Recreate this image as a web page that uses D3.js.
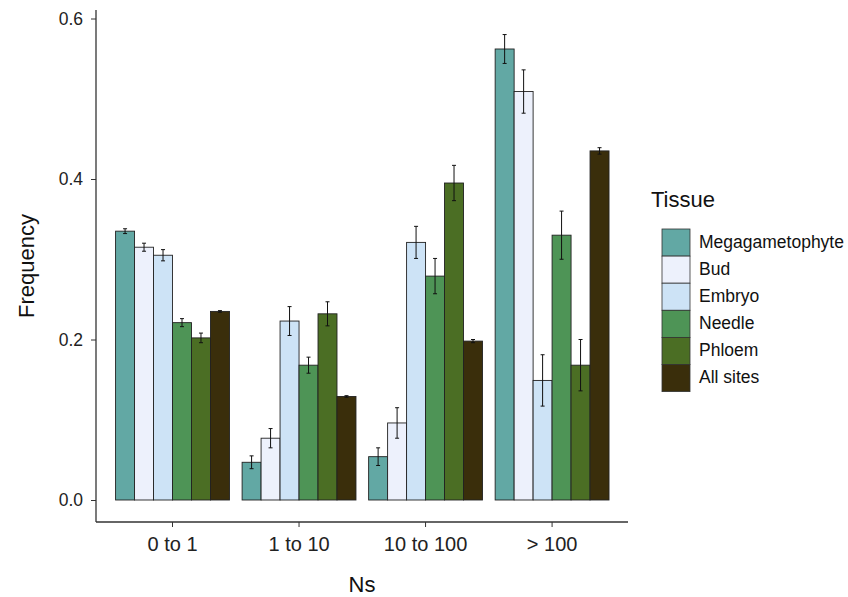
<!DOCTYPE html>
<html>
<head>
<meta charset="utf-8">
<script src="https://cdn.jsdelivr.net/npm/d3@7"></script>
<style>
  body { margin: 0; background: #fff; }
  text { font-family: "Liberation Sans", Arial, sans-serif; }
</style>
</head>
<body>
<div id="container"></div>
<script>
// data
const groups = ["0 to 1", "1 to 10", "10 to 100", "> 100"];
const tissues = ["Megagametophyte", "Bud", "Embryo", "Needle", "Phloem", "All sites"];
const colors = ["#62a8a4", "#edf1fc", "#cde3f6", "#4e9456", "#4b6e24", "#3a2e0b"];
// frequency per tissue, one value per group
const megaVals = [0.335, 0.047, 0.054, 0.562];
const budVals = [0.315, 0.077, 0.096, 0.509];
const embryoVals = [0.305, 0.223, 0.321, 0.149];
const needleVals = [0.221, 0.168, 0.279, 0.330];
const phloemVals = [0.202, 0.232, 0.395, 0.168];
const allVals = [0.235, 0.129, 0.198, 0.435];
// error (half width)
const megaErr = [0.003, 0.008, 0.011, 0.018];
const budErr = [0.005, 0.012, 0.019, 0.027];
const embryoErr = [0.007, 0.018, 0.020, 0.032];
const needleErr = [0.005, 0.010, 0.022, 0.030];
const phloemErr = [0.006, 0.015, 0.022, 0.032];
const allErr = [0.001, 0.001, 0.002, 0.004];
const yTicks = [0.0, 0.2, 0.4, 0.6];

const values = [megaVals, budVals, embryoVals, needleVals, phloemVals, allVals];
const errs = [megaErr, budErr, embryoErr, needleErr, phloemErr, allErr];

const width = 848, height = 597;
const svg = d3.select("#container").append("svg")
  .attr("width", width).attr("height", height);

// scales
const x0 = d3.scaleBand().domain(groups).range([96.6, 628])
  .paddingInner(0.1).paddingOuter(0.15);
const x1 = d3.scaleBand().domain(tissues).range([0, x0.bandwidth()]);
const y = d3.scaleLinear().domain([0, 0.6]).range([500, 18.5]);
const color = d3.scaleOrdinal().domain(tissues).range(colors);

// flatten
const rows = [];
groups.forEach((g, gi) => {
  tissues.forEach((t, ti) => {
    rows.push({ group: g, tissue: t, value: values[ti][gi], err: errs[ti][gi] });
  });
});

// bars
const barG = svg.append("g");
barG.selectAll("rect").data(rows).enter().append("rect")
  .attr("x", d => x0(d.group) + x1(d.tissue))
  .attr("y", d => y(d.value))
  .attr("width", x1.bandwidth())
  .attr("height", d => y(0) - y(d.value))
  .attr("fill", d => color(d.tissue))
  .attr("stroke", "#222")
  .attr("stroke-width", 0.9);

// error bars
const errG = svg.append("g").attr("stroke", "#111").attr("stroke-width", 1);
rows.forEach(d => {
  const cx = x0(d.group) + x1(d.tissue) + x1.bandwidth() / 2;
  const top = y(d.value + d.err), bot = y(d.value - d.err);
  errG.append("line").attr("x1", cx).attr("x2", cx).attr("y1", top).attr("y2", bot);
  errG.append("line").attr("x1", cx - 2).attr("x2", cx + 2).attr("y1", top).attr("y2", top);
  errG.append("line").attr("x1", cx - 2).attr("x2", cx + 2).attr("y1", bot).attr("y2", bot);
});

// y axis
const yAxis = d3.axisLeft(y).tickValues(yTicks).tickFormat(d3.format(".1f")).tickSize(5).tickPadding(8);
const yg = svg.append("g").attr("transform", "translate(96,0)").call(yAxis);
yg.select(".domain").attr("d", "M0,10V522").attr("stroke", "#333").attr("stroke-width", 1.3);
yg.selectAll(".tick line").attr("stroke", "#333");
yg.selectAll(".tick text").attr("font-size", 17.5).attr("fill", "#222")
  .attr("font-family", "Liberation Sans, Arial, sans-serif");

// x axis
const xAxis = d3.axisBottom(x0).tickSize(5).tickPadding(10);
const xg = svg.append("g").attr("transform", "translate(0,522)").call(xAxis);
xg.select(".domain").attr("d", "M96,0H628").attr("stroke", "#333").attr("stroke-width", 1.3);
xg.selectAll(".tick line").attr("stroke", "#333");
xg.selectAll(".tick text").attr("font-size", 20).attr("fill", "#222")
  .attr("font-family", "Lato, Liberation Sans, sans-serif");

// axis titles
svg.append("text").attr("x", 362).attr("y", 592).attr("text-anchor", "middle")
  .attr("font-size", 22).attr("fill", "#111").text("Ns");
svg.append("text").attr("transform", "translate(34,266) rotate(-90)")
  .attr("text-anchor", "middle").attr("font-size", 22).attr("fill", "#111").text("Frequency");

// legend
const lg = svg.append("g").attr("transform", "translate(641,0)");
lg.append("text").attr("x", 10).attr("y", 207).attr("font-size", 22).attr("fill", "#111").text("Tissue");
const item = lg.selectAll("g.item").data(tissues).enter().append("g")
  .attr("class", "item")
  .attr("transform", (d, i) => `translate(0, ${229 + i * 27.1})`);
item.append("rect").attr("x", 21).attr("y", 0).attr("width", 28).attr("height", 27.1)
  .attr("fill", d => color(d)).attr("stroke", "#333").attr("stroke-width", 0.8);
item.append("text").attr("x", 58).attr("y", 18.5).attr("font-size", 17.5).attr("fill", "#111")
  .text(d => d);
</script>
</body>
</html>
